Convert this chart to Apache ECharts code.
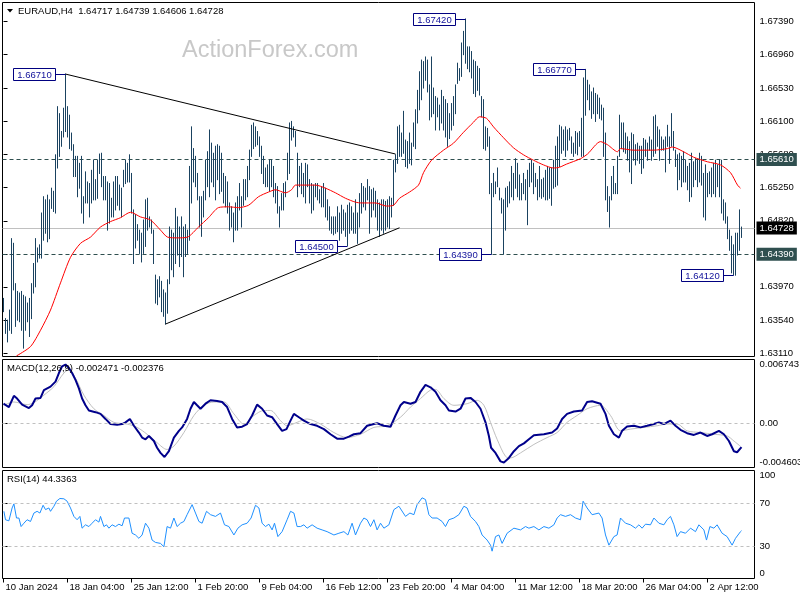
<!DOCTYPE html>
<html><head><meta charset="utf-8">
<script src="https://cdn.jsdelivr.net/npm/echarts@6/dist/echarts.min.js"></script>
<style>html,body{margin:0;padding:0;background:#fff}#c{width:800px;height:600px}</style>
</head><body><div id="c"></div>
<script>
// ---------- DATA (EURAUD H4, bar index 0 = 10 Jan 2024 20:00) ----------
const barHigh = [
1.6382,1.6356,1.6354,1.6367,1.6459,1.6453,1.6401,1.6391,1.6389,1.6391,
1.6386,1.6384,1.6376,1.6382,1.6401,1.6427,1.6459,1.6447,1.6451,1.6492,
1.6513,1.6509,1.6515,1.6509,1.6524,1.6520,1.6567,1.6629,1.6620,1.6597,
1.6627,1.6671,1.6629,1.6618,1.6595,1.6580,1.6565,1.6565,1.6556,1.6565,
1.6513,1.6545,1.6532,1.6530,1.6547,1.6560,1.6535,1.6560,1.6568,1.6569,
1.6539,1.6539,1.6532,1.6530,1.6511,1.6532,1.6539,1.6539,1.6528,1.6524,
1.6547,1.6560,1.6556,1.6567,1.6543,1.6496,1.6490,1.6477,1.6470,1.6466,
1.6483,1.6509,1.6511,1.6487,1.6483,1.6470,1.6412,1.6406,1.6410,1.6404,
1.6393,1.6389,1.6406,1.6474,1.6470,1.6466,1.6498,1.6487,1.6474,1.6487,
1.6474,1.6477,1.6470,1.6552,
1.6603,1.6575,1.6565,1.6543,1.6513,1.6513,1.6520,1.6560,1.6571,1.6599,
1.6582,1.6569,1.6578,1.6580,1.6578,1.6569,1.6543,1.6539,1.6532,1.6505,
1.6500,1.6492,1.6505,1.6513,1.6530,1.6513,1.6535,1.6535,1.6552,1.6573,
1.6605,1.6608,1.6603,1.6597,1.6590,1.6578,1.6565,1.6550,1.6554,1.6560,
1.6560,1.6552,1.6530,1.6526,1.6500,1.6517,1.6530,1.6532,1.6569,1.6608,
1.6610,1.6603,1.6597,1.6569,1.6552,1.6556,1.6543,1.6556,1.6554,1.6535,
1.6530,1.6528,1.6530,1.6530,1.6522,1.6526,1.6530,1.6524,1.6509,1.6500,
1.6487,1.6487,1.6487,1.6500,1.6492,1.6502,1.6496,1.6492,1.6502,1.6505,
1.6500,1.6492,1.6509,1.6492,1.6517,1.6530,1.6526,1.6524,1.6535,1.6526,
1.6522,1.6524,1.6520,1.6509,
1.6505,1.6509,1.6509,1.6507,1.6509,1.6513,1.6511,1.6560,1.6567,1.6603,
1.6605,1.6595,1.6623,1.6586,1.6584,1.6595,1.6582,1.6608,1.6625,1.6650,
1.6674,1.6689,1.6687,1.6693,1.6689,1.6657,1.6693,1.6653,1.6642,1.6640,
1.6631,1.6650,1.6642,1.6638,1.6633,1.6620,1.6633,1.6642,1.6657,1.6685,
1.6678,1.6711,1.6726,1.6742,1.6706,1.6706,1.6700,1.6689,1.6687,1.6681,
1.6678,1.6642,1.6638,1.6603,1.6601,1.6590,1.6530,1.6543,1.6532,1.6550,
1.6524,1.6511,1.6509,1.6524,1.6526,1.6532,1.6552,1.6543,1.6562,1.6556,
1.6541,1.6530,1.6543,1.6535,1.6547,1.6556,1.6560,1.6556,1.6543,1.6535,
1.6552,1.6535,1.6537,1.6547,1.6552,1.6550,1.6550,1.6560,1.6578,1.6590,
1.6605,1.6603,1.6599,
1.6603,1.6599,1.6601,1.6590,1.6582,1.6597,1.6595,1.6597,1.6614,1.6666,
1.6677,1.6663,1.6657,1.6648,1.6653,1.6646,1.6644,1.6640,1.6631,1.6627,
1.6595,1.6526,1.6513,1.6539,1.6552,1.6530,1.6565,1.6618,1.6608,1.6608,
1.6595,1.6590,1.6584,1.6595,1.6593,1.6580,1.6582,1.6578,1.6578,1.6588,
1.6586,1.6582,1.6590,1.6586,1.6616,1.6618,1.6603,1.6599,1.6590,1.6586,
1.6590,1.6605,1.6590,1.6620,1.6597,1.6573,1.6567,1.6569,1.6565,1.6571,
1.6560,1.6552,1.6556,1.6569,1.6558,1.6562,1.6560,1.6569,1.6565,1.6543,
1.6554,1.6543,1.6545,1.6550,1.6556,1.6560,1.6554,1.6560,1.6560,1.6509,
1.6505,1.6487,1.6470,1.6462,1.6451,1.6466,1.6466,1.6496,1.64739
];
const barLow = [
1.6365,1.6337,1.6326,1.6341,1.6337,1.6393,1.6346,1.6354,1.6352,1.6341,
1.6318,1.6341,1.6352,1.6333,1.6356,1.6389,1.6397,1.6429,1.6434,1.6434,
1.6457,1.6466,1.6455,1.6459,1.6498,1.6494,1.6492,1.6550,1.6565,1.6578,
1.6590,1.6597,1.6590,1.6575,1.6573,1.6539,1.6539,1.6513,1.6524,1.6492,
1.6479,1.6505,1.6505,1.6487,1.6505,1.6509,1.6509,1.6511,1.6543,1.6526,
1.6509,1.6509,1.6470,1.6479,1.6487,1.6487,1.6496,1.6502,1.6496,1.6487,
1.6526,1.6530,1.6532,1.6532,1.6492,1.6427,1.6447,1.6457,1.6440,1.6429,
1.6440,1.6449,1.6470,1.6474,1.6466,1.6427,1.6376,1.6374,1.6384,1.6365,
1.6359,1.6349,1.6363,1.6401,1.6419,1.6410,1.6427,1.6438,1.6423,1.6436,
1.6410,1.6436,1.6440,1.6457,
1.6505,1.6532,1.6526,1.6509,1.6474,1.6462,1.6487,1.6509,1.6526,1.6513,
1.6532,1.6526,1.6509,1.6535,1.6517,1.6520,1.6505,1.6500,1.6492,1.6470,
1.6474,1.6455,1.6470,1.6470,1.6496,1.6474,1.6502,1.6509,1.6513,1.6535,
1.6565,1.6575,1.6578,1.6580,1.6565,1.6543,1.6530,1.6526,1.6526,1.6520,
1.6526,1.6513,1.6505,1.6492,1.6474,1.6496,1.6496,1.6513,1.6535,1.6543,
1.6586,1.6590,1.6578,1.6513,1.6526,1.6517,1.6513,1.6505,1.6526,1.6505,
1.6492,1.6496,1.6513,1.6509,1.6505,1.6500,1.6500,1.6487,1.6483,1.6470,
1.6466,1.6464,1.6466,1.6468,1.6457,1.6466,1.6470,1.6462,1.6450,1.6466,
1.6470,1.6466,1.6466,1.6453,1.6474,1.6492,1.6500,1.6496,1.6509,1.6466,
1.6487,1.6496,1.6487,1.6470,
1.6462,1.6470,1.6466,1.6470,1.6474,1.6472,1.6487,1.6502,1.6545,1.6556,
1.6565,1.6565,1.6569,1.6552,1.6550,1.6556,1.6554,1.6578,1.6575,1.6608,
1.6625,1.6638,1.6653,1.6663,1.6648,1.6612,1.6616,1.6620,1.6599,1.6616,
1.6599,1.6608,1.6599,1.6590,1.6578,1.6588,1.6599,1.6605,1.6620,1.6659,
1.6663,1.6668,1.6696,1.6685,1.6678,1.6674,1.6666,1.6646,1.6642,1.6650,
1.6644,1.6616,1.6575,1.6573,1.6578,1.6517,1.6439,1.6513,1.6517,1.6526,
1.6509,1.6492,1.6439,1.6470,1.6500,1.6505,1.6513,1.6509,1.6524,1.6513,
1.6509,1.6509,1.6517,1.6509,1.6477,1.6526,1.6532,1.6517,1.6526,1.6509,
1.6513,1.6511,1.6513,1.6509,1.6509,1.6511,1.6502,1.6524,1.6526,1.6528,
1.6552,1.6569,1.6573,
1.6565,1.6573,1.6586,1.6569,1.6565,1.6569,1.6567,1.6578,1.6565,1.6565,
1.6618,1.6638,1.6625,1.6614,1.6620,1.6610,1.6620,1.6614,1.6612,1.6565,
1.6509,1.6494,1.6474,1.6509,1.6517,1.6517,1.6517,1.6565,1.6575,1.6571,
1.6569,1.6560,1.6545,1.6530,1.6560,1.6554,1.6560,1.6556,1.6543,1.6550,
1.6565,1.6560,1.6573,1.6560,1.6565,1.6569,1.6578,1.6560,1.6573,1.6573,
1.6545,1.6578,1.6556,1.6578,1.6573,1.6552,1.6522,1.6535,1.6526,1.6532,
1.6532,1.6522,1.6507,1.6513,1.6526,1.6535,1.6526,1.6532,1.6528,1.6487,
1.6483,1.6513,1.6517,1.6513,1.6517,1.6513,1.6526,1.6513,1.6492,1.6483,
1.6479,1.6459,1.6444,1.6415,1.6412,1.6412,1.6438,1.6444,1.64606
];

// moving average (red), sampled along the curve: bar index / value
const maX = [6.5,13.5,18.5,23.5,28.5,33.5,38.5,43.5,48.5,53.5,58.5,63.5,68.5,73.5,78.5,82,87,92,97.5,102.5,107.5,112.5,117.5,122.5,127.5,132.5,136,141,144,146,151,156,161,166,171,176,179,186,191.5,195,198,203,207.5,210,214,220,225,230,235,238,241.5,245,250,255,260,265,270,275,278,281.5,288.5,292,298.5,302,307,308.5,315,325,332,334.5,340,345,352,358.5,363.5,367,368.5];
const maY = [1.6308,1.6320,1.6341,1.6367,1.6402,1.6435,1.6453,1.6461,1.6474,1.6481,1.6486,1.6493,1.6487,1.6483,1.6470,1.6461,1.6460,1.6461,1.6474,1.6486,1.6499,1.6500,1.6499,1.6502,1.6513,1.6519,1.6522,1.6518,1.6522,1.6528,1.6528,1.6528,1.6524,1.6518,1.6511,1.6506,1.6505,1.6505,1.6501,1.6502,1.6511,1.6519,1.6528,1.6544,1.6560,1.6573,1.6582,1.6596,1.6609,1.6616,1.6614,1.6603,1.6589,1.6576,1.6567,1.6560,1.6554,1.6550,1.6551,1.6555,1.6562,1.6568,1.6584,1.6580,1.6571,1.6575,1.6573,1.6573,1.6575,1.6577,1.6571,1.6564,1.6558,1.6554,1.6544,1.6528,1.6524];

// MACD main line
const macdX = [0,2.7,5.2,6.8,9.3,12.7,14.3,16,18.5,20.2,23.5,26,27.7,29.3,31,32.7,34.3,36,37.7,39.3,41,42.7,46,48.5,51,53.5,56.8,59.3,61,63.2,65.2,67.7,69.3,71,72.7,75.2,76.8,78.5,80.5,82.7,85.2,87.7,89.3,91.8,93.5,95.2,96.8,98.5,101,103.5,106.8,109.3,111.8,114.3,116.8,119.3,121.8,124.3,126.8,129.3,131.8,134.3,136.8,139.3,141.5,143.5,145.2,147.7,150.2,153.5,156.8,160.2,163.5,166.8,170.2,172.7,175.2,178.5,181.8,185.2,186.8,190.2,193.5,196,198.5,200.2,203.5,206,208.5,211,213.5,216,218.5,221,222.7,226,228.5,231,233.5,236,238.5,241,242.7,243.8,246,248.5,250.2,252.7,255.2,257.7,260.2,262.7,265.2,270.2,274.3,276.8,279.3,281.8,285.2,289.3,291.8,294.3,298.5,301,302.7,305.2,307.7,309.3,311.8,315.2,318.5,321.8,325.2,327.7,330.2,331.8,333.5,336,338.5,341.8,345.2,348.5,350.2,351.8,354.3,357.7,360.2,362.7,365.2,366.8,369];
const macdV = [0.00210,0.00175,0.00293,0.00264,0.00200,0.00164,0.00193,0.00264,0.00271,0.00353,0.00389,0.00442,0.00532,0.00603,0.00621,0.00585,0.00532,0.00460,0.00371,0.00264,0.00193,0.00139,0.00121,0.00103,0.00050,-0.00004,-0.00011,-0.00004,0.00014,0.00050,-0.00022,-0.00093,-0.00146,-0.00164,-0.00129,-0.00182,-0.00253,-0.00307,-0.00350,-0.00289,-0.00146,-0.00075,-0.00039,0.00050,0.00157,0.00228,0.00193,0.00157,0.00210,0.00246,0.00239,0.00228,0.00175,0.00050,-0.00039,-0.00032,-0.00004,0.00086,0.00200,0.00157,0.00086,0.00068,-0.00004,-0.00075,-0.00057,0.00032,0.00103,0.00068,0.00032,-0.00004,-0.00022,-0.00057,-0.00111,-0.00157,-0.00157,-0.00136,-0.00111,-0.00100,-0.00022,-0.00004,0.00004,-0.00022,-0.00032,0.00086,0.00193,0.00228,0.00210,0.00228,0.00335,0.00407,0.00382,0.00335,0.00246,0.00193,0.00139,0.00128,0.00157,0.00264,0.00271,0.00228,0.00157,0.00014,-0.00129,-0.00253,-0.00307,-0.00396,-0.00407,-0.00360,-0.00289,-0.00236,-0.00207,-0.00164,-0.00121,-0.00111,-0.00093,-0.00050,0.00050,0.00103,0.00128,0.00139,0.00228,0.00235,0.00210,0.00103,-0.00022,-0.00111,-0.00146,-0.00075,-0.00029,-0.00022,-0.00039,-0.00022,-0.00004,0.00014,-0.00004,0.00014,0.00032,-0.00022,-0.00064,-0.00100,-0.00118,-0.00093,-0.00111,-0.00129,-0.00111,-0.00075,-0.00111,-0.00182,-0.00289,-0.00300,-0.00247];
// MACD signal line
const sigX = [0,5.2,11.8,15.2,20.2,25.2,30.2,32.7,36,40.2,45.2,50.2,55.2,61.8,66.8,71.8,76.8,81.8,85.2,90.2,95.2,100.2,105.2,110.2,115.2,120.2,125.2,130.2,133.5,138.5,141.8,146.8,151.8,158.5,165.2,171.8,178.5,185.2,191.8,198.5,203.5,208.5,213.5,216,220.2,225.2,231.8,236.8,240.2,243.5,246.8,251,253.5,258.5,265.2,271.8,276.8,281.8,286.8,291.8,298.5,303.5,308.5,313.5,320.2,326.8,331.8,336.8,341.8,348.5,355.2,361.8,365.2,368.5];
const sigV = [0.00193,0.00228,0.00200,0.00221,0.00300,0.00389,0.00532,0.00567,0.00478,0.00300,0.00157,0.00086,0.00014,-0.00004,-0.00039,-0.00111,-0.00200,-0.00271,-0.00236,-0.00093,0.00086,0.00193,0.00228,0.00228,0.00103,-0.00004,0.00086,0.00139,0.00139,0.00032,-0.00022,0.00014,0.00050,-0.00004,-0.00093,-0.00146,-0.00111,-0.00039,-0.00022,0.00068,0.00175,0.00264,0.00353,0.00360,0.00264,0.00193,0.00210,0.00246,0.00193,0.00014,-0.00164,-0.00343,-0.00360,-0.00307,-0.00218,-0.00146,-0.00093,0.00014,0.00086,0.00157,0.00193,0.00086,-0.00075,-0.00057,-0.00039,-0.00022,-0.00004,-0.00004,-0.00075,-0.00093,-0.00111,-0.00129,-0.00182,-0.00238];

// RSI(14)
const rsiX = [0.2,1,2.7,4.3,5.2,6.5,7.7,8.8,10.2,11.8,13.5,15.2,16.8,18.2,19.8,21,22.7,23.5,25.2,26.5,28.2,30.2,31.8,33.5,35.2,36.8,38.2,39.3,41,42.7,44.3,46,47.7,48.5,50.2,51.5,52.7,54.3,56,57.7,59.3,60.5,62.7,64.3,66,67.7,69.3,71,72.7,74.3,76,78.5,80.2,81.8,83.5,85.2,86.8,88.5,90.2,91.8,94.3,96,97.7,99.3,101.5,103.5,106,108.5,110.5,112.7,115.2,117.2,119.3,121.8,123.8,126,127.7,129.3,131,132.7,134.3,135.5,137.2,139.3,141.8,143.5,145.2,146.8,148.5,150.2,151.8,154.3,156.8,159.3,161.8,165.2,167.7,170.2,172.2,174.3,176,178.5,180.2,181.8,183.5,185.2,186.8,188.5,190.2,192.7,195.2,197.7,198.5,201,203.2,205.2,206.8,209.3,211,212.7,214.3,216.8,219.3,221,222.7,225.2,227.7,230.2,231.8,233.5,236,237.7,239.3,241.8,243.5,244.3,246,247.7,249.3,251.8,255.2,258.5,261,262.7,265.2,267.7,270.2,272.7,275.2,276.8,278.5,281,283.5,286,288.5,289.8,291.8,294.3,297.7,299.3,301,302.7,305.2,306.8,308.5,311,313.5,316,317.7,319.3,321,323.5,325.2,327.7,330.2,331.8,333.5,335.2,336.8,338.5,341,343.5,346,347.7,350.2,351.5,353.2,355.2,356.8,359.3,361.8,364.3,366,368.5,369];
const rsiV = [62.2,54.4,53.4,65.3,69.1,56.0,56.0,48.1,51.2,54.4,52.8,60.6,62.2,60.6,67.8,63.8,65.3,62.2,66.9,71.6,74.1,73.8,71.6,65.3,57.5,54.4,57.5,46.6,49.7,48.1,51.2,54.4,52.2,57.5,48.1,49.7,46.6,49.7,48.1,50.3,48.8,56.0,56.0,41.9,40.3,37.2,40.3,51.2,46.6,35.6,33.4,32.5,29.4,48.1,46.6,56.0,48.1,51.2,52.8,59.1,68.4,60.6,52.8,51.2,62.2,59.1,57.5,60.6,49.7,48.1,40.3,46.6,49.7,51.2,56.0,67.8,65.3,51.2,48.1,50.3,45.0,51.2,38.8,43.4,54.4,62.2,60.6,48.1,48.1,49.7,46.6,49.7,46.6,45.0,43.4,40.3,41.9,43.4,40.3,51.2,40.3,51.2,56.0,54.4,48.1,54.4,45.0,51.2,46.6,49.7,63.8,66.9,68.4,57.5,60.6,59.1,68.4,74.7,73.1,59.1,56.0,56.0,52.8,48.1,54.4,56.0,59.1,66.9,65.3,57.5,52.8,48.1,40.3,35.6,30.9,25.3,38.8,40.3,32.5,41.9,46.6,45.0,48.1,46.6,48.1,45.0,48.1,46.6,49.7,56.0,59.1,57.5,59.1,56.0,54.4,71.6,65.3,59.1,60.6,56.0,40.3,30.9,38.8,40.3,56.0,51.2,49.7,46.6,49.7,46.6,50.3,49.7,56.0,51.2,49.7,54.4,57.5,49.7,38.8,43.4,41.9,46.6,43.4,49.7,45.0,35.6,48.1,46.6,49.7,41.9,38.8,30.9,37.2,43.4,44.3];

// trendlines (bar index, price)
const trendUpper = [[31, 1.6671], [196, 1.6568]];
const trendLower = [[81, 1.6349], [198, 1.6473]];
// swing labels
const pivotIdx = [31, 231, 291, 172, 244, 365];
const pivotVal = [1.6671, 1.6742, 1.6677, 1.6450, 1.6439, 1.6412];
// horizontal levels
const levelVals = [1.6561, 1.6439];
const bidPrice = 1.64728;
// axis ticks
const priceTicks = [1.6311,1.6354,1.6397,1.6439,1.6482,1.6525,1.6568,1.6610,1.6653,1.6696,1.6739];
const macdTicks = [-0.004603, 0, 0.006743];
const rsiTicks = [0, 30, 70, 100];
const rsiLevels = [30, 70];
const timeIdx = [0,32,64,96,128,160,192,224,256,288,320,352];
const timeLbl = ['10 Jan 2024','18 Jan 04:00','25 Jan 12:00','1 Feb 20:00','9 Feb 04:00','16 Feb 12:00','23 Feb 20:00','4 Mar 04:00','11 Mar 12:00','18 Mar 20:00','26 Mar 04:00','2 Apr 12:00'];
const lastOHLC = [1.64717, 1.64739, 1.64606, 1.64728];
const macdLast = [-0.002471, -0.002376];
const rsiLast = 44.3363;

// ---------- CHART ----------
const FONT = '"Liberation Sans", Arial, sans-serif';
const FS = 9.5;
const BAR_COLOR = '#1a4260';
const SLATE = '#2F4F4F';
const chart = echarts.init(document.getElementById('c'), null, {renderer: 'canvas', width: 800, height: 600});
const pair = (xs, ys) => xs.map((x, i) => [x, ys[i]]);
const ohlc = barHigh.map((h, i) => [i, barLow[i], h]);

const gridBase = {left: 2.5, width: 752, show: true, borderColor: '#000', borderWidth: 1, containLabel: false, outerBoundsMode: 'none'};
const grids = [
  Object.assign({top: 2.5, height: 354}, gridBase),
  Object.assign({top: 359.5, height: 108}, gridBase),
  Object.assign({top: 470.5, height: 108}, gridBase)
];
const xAxes = [0, 1, 2].map(g => ({
  type: 'value', gridIndex: g, min: -0.5, max: 375.5, show: g === 2,
  axisLine: {show: false}, splitLine: {show: false},
  axisTick: {show: true, customValues: timeIdx, length: 4, lineStyle: {color: '#000'}},
  axisLabel: {customValues: timeIdx, formatter: v => timeLbl[timeIdx.indexOf(v)] || '',
    align: 'left', margin: 4, padding: [0, 0, 0, 2], fontSize: FS, fontFamily: FONT, color: '#000', hideOverlap: false}
}));
const yBase = (g, min, max, ticks, fmt) => ({
  type: 'value', gridIndex: g, position: 'right', min: min, max: max,
  axisLine: {show: false}, splitLine: {show: false},
  axisTick: {show: true, customValues: ticks, length: 4, lineStyle: {color: '#000'}},
  axisLabel: {customValues: ticks, formatter: fmt, margin: 5, fontSize: FS, fontFamily: FONT, color: '#000',
    verticalAlignMinLabel: g === 0 ? 'middle' : 'bottom', verticalAlignMaxLabel: g === 0 ? 'middle' : 'top', hideOverlap: false}
});
const yAxes = [
  yBase(0, 1.63072, 1.67632, priceTicks, v => v.toFixed(5)),
  yBase(1, -0.004603, 0.006743, macdTicks, v => (v === 0 ? '0.00' : v.toFixed(6))),
  yBase(2, 0, 100, rsiTicks, v => String(v))
];

const boxLabel = bg => ({show: true, position: 'end', distance: 2, formatter: p => Number(p.value).toFixed(5),
  color: '#fff', backgroundColor: bg, padding: [2, 3, 1, 3], fontSize: FS, fontFamily: FONT});

const series = [
  {
    type: 'custom', name: 'bars', xAxisIndex: 0, yAxisIndex: 0, data: ohlc, encode: {x: 0, y: [1, 2]}, clip: true, z: 3,
    renderItem: (params, api) => {
      const x = api.value(0);
      const lo = api.coord([x, api.value(1)]);
      const hi = api.coord([x, api.value(2)]);
      const px = Math.floor(lo[0]) + 0.5;
      return {type: 'line', shape: {x1: px, y1: lo[1] + 0.5, x2: px, y2: hi[1] - 0.5}, style: {stroke: BAR_COLOR, lineWidth: 1}};
    },
    markLine: {
      symbol: 'none', silent: true, animation: false, z: 2, precision: 5,
      data: levelVals.map(v => ({yAxis: v, lineStyle: {color: SLATE, type: [4, 3], width: 1}, label: boxLabel(SLATE)}))
        .concat([{yAxis: bidPrice, lineStyle: {color: '#C0C0C0', type: 'solid', width: 1}, label: boxLabel('#000')}])
    }
  },
  {type: 'line', xAxisIndex: 0, yAxisIndex: 0, data: pair(maX, maY), symbol: 'none', smooth: 0.25, lineStyle: {color: '#FF0000', width: 1}, z: 4},
  {type: 'line', xAxisIndex: 0, yAxisIndex: 0, data: trendUpper, symbol: 'none', lineStyle: {color: '#000', width: 1}, z: 5},
  {type: 'line', xAxisIndex: 0, yAxisIndex: 0, data: trendLower, symbol: 'none', lineStyle: {color: '#000', width: 1}, z: 5},
  {
    type: 'custom', xAxisIndex: 0, yAxisIndex: 0, data: pair(pivotIdx, pivotVal), clip: false, z: 6,
    renderItem: (params, api) => {
      const p = api.coord([api.value(0), api.value(1)]);
      const bx = Math.floor(p[0]) + 0.5, by = Math.round(p[1]) + 0.5;
      const w = 42, h = 12, gap = 10;
      return {type: 'group', children: [
        {type: 'line', shape: {x1: bx - gap, y1: by, x2: bx, y2: by}, style: {stroke: '#000080', lineWidth: 1}},
        {type: 'rect', shape: {x: bx - gap - w, y: by - 6, width: w, height: h}, style: {fill: '#fff', stroke: '#000080', lineWidth: 1}},
        {type: 'text', x: bx - gap - w / 2, y: by + 0.5, style: {text: api.value(1).toFixed(5), fill: '#10109a', font: FS + 'px ' + FONT, align: 'center', verticalAlign: 'middle'}}
      ]};
    }
  },
  {type: 'line', xAxisIndex: 1, yAxisIndex: 1, data: pair(sigX, sigV), symbol: 'none', smooth: 0.3, lineStyle: {color: '#C0C0C0', width: 1}, z: 3,
    markLine: {symbol: 'none', silent: true, precision: 6, label: {show: false}, data: [{yAxis: 0}], lineStyle: {color: '#C0C0C0', type: [3, 3], width: 1}}},
  {type: 'line', xAxisIndex: 1, yAxisIndex: 1, data: pair(macdX, macdV), symbol: 'none', lineStyle: {color: '#00008B', width: 2}, z: 4},
  {type: 'line', xAxisIndex: 2, yAxisIndex: 2, data: pair(rsiX, rsiV), symbol: 'none', lineStyle: {color: '#1E90FF', width: 1}, z: 4,
    markLine: {symbol: 'none', silent: true, label: {show: false}, data: rsiLevels.map(v => ({yAxis: v})), lineStyle: {color: '#C0C0C0', type: [3, 3], width: 1}}}
];

const headerText = 'EURAUD,H4  ' + lastOHLC.map(v => v.toFixed(5)).join(' ');
const macdTitle = 'MACD(12,26,9) ' + macdLast.map(v => v.toFixed(6)).join(' ');
const rsiTitle = 'RSI(14) ' + rsiLast.toFixed(4);

chart.setOption({
  animation: false,
  backgroundColor: '#fff',
  textStyle: {fontFamily: FONT},
  grid: grids, xAxis: xAxes, yAxis: yAxes, series: series,
  graphic: [
    {type: 'text', x: 182, y: 51, z: 1, style: {text: 'ActionForex.com', font: '23.5px ' + FONT, fill: '#c8c8c8', verticalAlign: 'middle'}},
    {type: 'polygon', z: 10, shape: {points: [[7, 9], [13, 9], [10, 12.5]]}, style: {fill: '#000'}},
    {type: 'text', x: 18, y: 11, z: 10, style: {text: headerText, font: FS + 'px ' + FONT, fill: '#000', verticalAlign: 'middle'}},
    {type: 'text', x: 7, y: 368, z: 10, style: {text: macdTitle, font: FS + 'px ' + FONT, fill: '#000', verticalAlign: 'middle'}},
    {type: 'text', x: 7, y: 479, z: 10, style: {text: rsiTitle, font: FS + 'px ' + FONT, fill: '#000', verticalAlign: 'middle'}}
  ]
});
</script></body></html>
